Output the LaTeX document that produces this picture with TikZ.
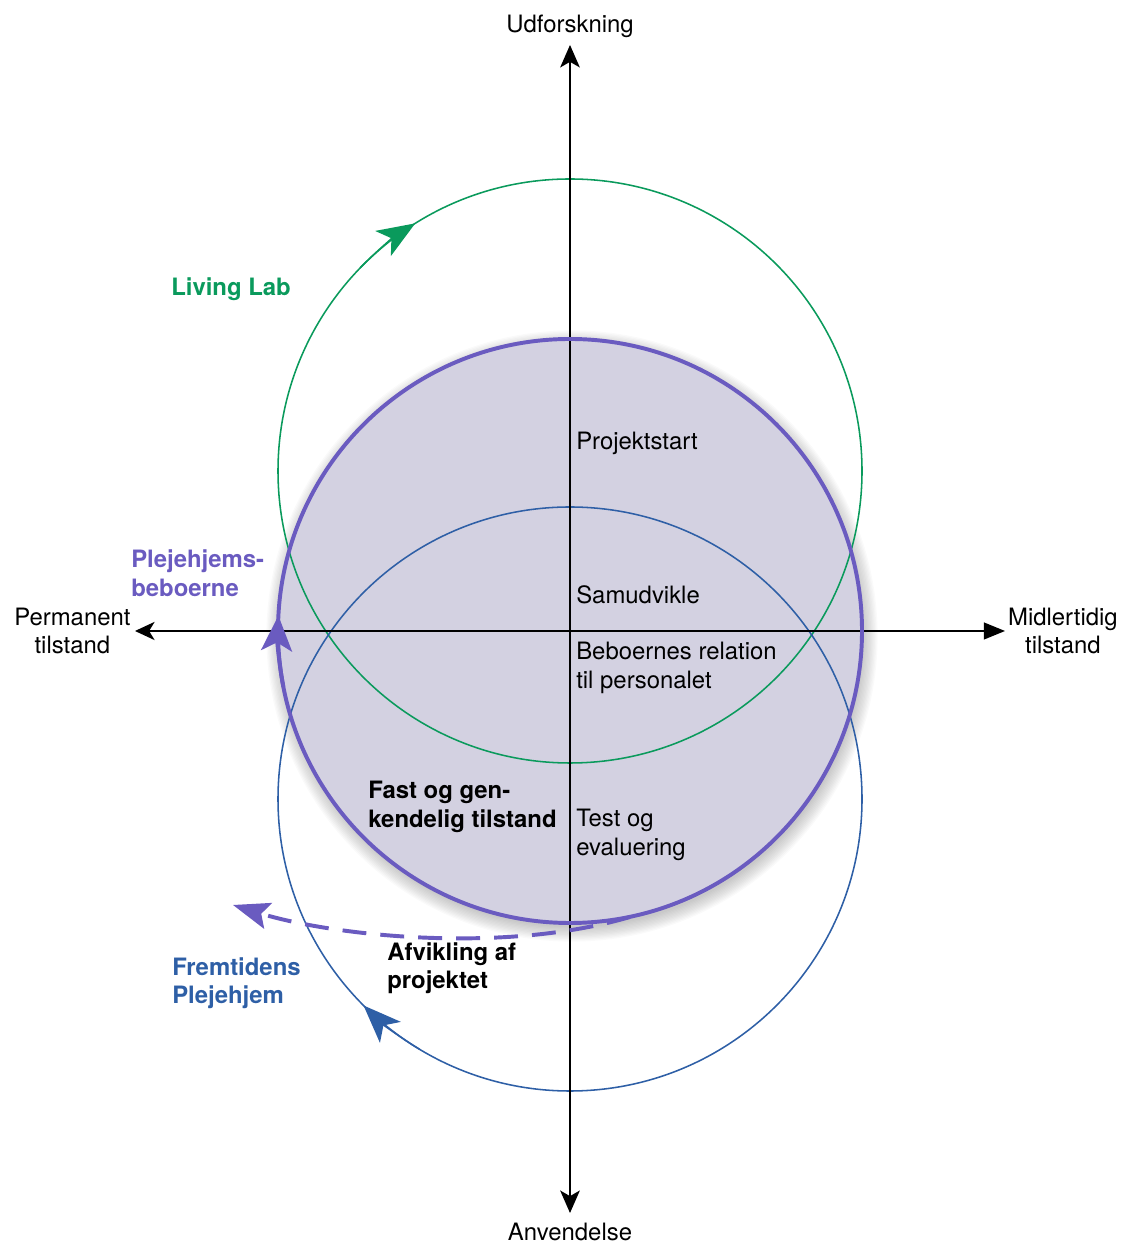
\documentclass[tikz,border=0pt]{standalone}
\usepackage{fontspec}
\setmainfont{TeX Gyre Heros}
\usetikzlibrary{positioning, arrows.meta}
\definecolor{llgreen}{HTML}{0A9A5C}
\definecolor{fpblue}{HTML}{2E5FA6}
\definecolor{pbpurple}{HTML}{6A5BC0}
\definecolor{pbfill}{HTML}{D3D1E1}

\begin{document}
\begin{tikzpicture}[x=0.025cm, y=0.025cm,
        txt/.style = {font=\fontsize{17}{20.3}\selectfont, inner sep=0pt, align=left, anchor=west},%
        btxt/.style = {txt, font=\fontsize{17}{20.3}\selectfont\bfseries},%
        axis/.style = {line width=1pt, black},%
        ring/.style = {line width=1.1pt},%
        thick ring/.style = {line width=2.8pt, pbpurple},%
        tip/.style = {-{Stealth[length=27pt, width=21pt, inset=7pt]}}%
    ]%
        \useasboundingbox (0,0) rectangle (1120,1247);
        \coordinate (gc) at (570,776);
        \coordinate (pc) at (570,616);
        \coordinate (bc) at (570,448);
        % soft shadow and fill of the middle circle
        \foreach \i in {1,...,12}
            \fill[black, opacity=0.018] ([shift={(2,-5)}]pc) circle[radius=290+\i*1.3];
        \fill[pbfill] (pc) circle[radius=292];
        \draw[ring, llgreen] (gc) circle[radius=292];
        \draw[ring, fpblue] (bc) circle[radius=292];
        % axes
        \coordinate (xl) at (135,616);
        \coordinate (xr) at (1005,616);
        \coordinate (yt) at (570,1202);
        \coordinate (yb) at (570,34);
        \draw[axis, {Stealth[length=14pt, width=13pt, inset=4pt]}-{Triangle[length=15pt, width=12pt]}] (xl) -- (xr);
        \draw[axis, {Stealth[length=16pt, width=14pt, inset=4pt]}-{Stealth[length=16pt, width=14pt, inset=4pt]}] (yb) -- (yt);
        \draw[thick ring] (pc) circle[radius=292];
        % direction arrows
        \draw[ring, llgreen, tip] ([shift={(136:292)}]gc) arc[start angle=136, end angle=122, radius=292];
        \draw[thick ring, -{Stealth[length=25pt, width=22pt, inset=6pt]}] ([shift={(191:292)}]pc) arc[start angle=191, end angle=177, radius=292];
        \draw[ring, fpblue, tip] ([shift={(239:292)}]bc) arc[start angle=239, end angle=225, radius=292];
        \coordinate (dstart) at (630,330);
        \coordinate (dend) at (233,342);
        \draw[thick ring, dash pattern=on 17pt off 10pt, -{Stealth[length=26pt, width=19pt, inset=5pt]}] (dstart) .. controls (500,292) and (330,312) .. (dend);
        % labels
        \node[txt, above=5pt of yt, anchor=south] (udf) {Udforskning};
        \node[txt, below=7pt of yb, anchor=north] (anv) {Anvendelse};
        \node[txt, left=3pt of xl, anchor=east, align=center] (perm) {Permanent\\tilstand};
        \node[txt, right=2pt of xr, anchor=west, align=center] (midl) {Midlertidig\\tilstand};
        \node[btxt, text=llgreen] (ll) at (171,958) {Living Lab};
        \node[btxt, text=pbpurple] (pb) at (131,674) {Plejehjems-\\beboerne};
        \node[btxt, text=fpblue] (fp) at (172,264) {Fremtidens\\Plejehjem};
        \node[txt] (start) at (576,804) {Projektstart};
        \node[txt] (samud) at (576,652) {Samudvikle};
        \node[txt] (relat) at (576,579) {Beboernes relation\\til personalet};
        \node[txt] (test) at (576,412) {Test og\\evaluering};
        \node[btxt] (fast) at (368,440) {Fast og gen-\\kendelig tilstand};
        \node[btxt] (afvik) at (387,279) {Afvikling af\\projektet};
    \end{tikzpicture}
\end{document}
